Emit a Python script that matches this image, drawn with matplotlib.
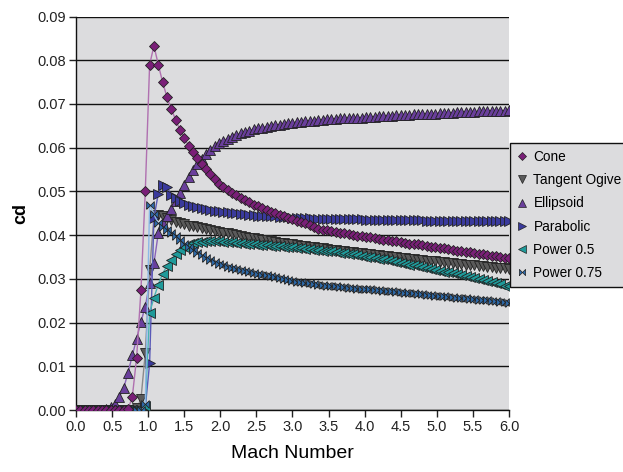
import numpy as np
import matplotlib
matplotlib.use("Agg")
import matplotlib.pyplot as plt
from matplotlib.lines import Line2D

plt.rcParams['font.family'] = ['Liberation Sans', 'DejaVu Sans']

# Mach numbers, 0.0 to 6.0 in steps of 0.06
mach = np.round(np.arange(101) * 0.06, 2)

cone = [0, 0, 0, 0, 0, 0, 0, 0, 0, 0, 0, 0,
        .0002, .0030, .0120, .0275, .0500, .0790, .0833, .0790, .0750, .0716,
        .0689, .0664, .0641, .0622, .0605, .0590, .0576, .0563, .0551, .0539,
        .0528, .0518, .0510, .0503, .0497, .0491, .0485, .0480, .0475, .0470,
        .0466, .0462, .0458, .0454, .0450, .0446, .0443, .0440, .0436, .0433,
        .0430, .0427, .0423, .0418, .0415, .0413, .0411, .0409, .0407, .0405,
        .0404, .0402, .0401, .0399, .0398, .0396, .0395, .0393, .0392, .0390,
        .0389, .0387, .0386, .0384, .0383, .0381, .0380, .0379, .0377, .0376,
        .0374, .0373, .0371, .0370, .0368, .0367, .0365, .0364, .0362, .0361,
        .0359, .0358, .0356, .0355, .0353, .0352, .0350, .0349, .0347]

ogive = [0, 0, 0, 0, 0, 0, 0, 0, 0, 0, 0, 0, 0, 0,
         .0004, .0025, .0131, .0320, .0442, .0446,
         .0443, .0439, .0435, .0431, .0428, .0425, .0422, .0420, .0418, .0416,
         .0414, .0412, .0410, .0408, .0406, .0404, .0402, .0400, .0398, .0396,
         .0394, .0393, .0391, .0389, .0388, .0386, .0385, .0383, .0382, .0380,
         .0379, .0378, .0376,
         .0375, .0374, .0372, .0371, .0370, .0369, .0367, .0366, .0365, .0364,
         .0362, .0361, .0360, .0359, .0358, .0357, .0355, .0354, .0353, .0352,
         .0351, .0350, .0349, .0347, .0346, .0345, .0344, .0343, .0342, .0341,
         .0340, .0339, .0338, .0337, .0336, .0335, .0334, .0333, .0332, .0331,
         .0330, .0329, .0328, .0327, .0326, .0325, .0324, .0323]

ellipsoid = [0, 0, 0, 0, 0, 0,
             .0001, .0003, .0007, .0015, .0030, .0050, .0085, .0125, .0163, .0202,
             .0237, .0290, .0336, .0404, .0429, .0445, .0459, .0478, .0497, .0515,
             .0532, .0549, .0562, .0574, .0585, .0595, .0603, .0610, .0616, .0621,
             .0625, .0629, .0633, .0636, .0639, .0642, .0644, .0646, .0648, .0650,
             .0652, .0653, .0655, .0656, .0657, .0658, .0659,
             .0660, .0661, .0662, .0663, .0664, .0665, .0665, .0666, .0667, .0667,
             .0668, .0668, .0669, .0669, .0670, .0671, .0671, .0672, .0672, .0673,
             .0673, .0674, .0674, .0675, .0675, .0676, .0676, .0677, .0677, .0678,
             .0678, .0679, .0679, .0680, .0680, .0681, .0681, .0682, .0682, .0682,
             .0683, .0683, .0684, .0684, .0685, .0685, .0685, .0686]

parabolic = [0, 0, 0, 0, 0, 0, 0, 0, 0, 0, 0, 0, 0, 0, 0, 0,
             .0006, .0107, .0440, .0495, .0515, .0510, .0493, .0484, .0478, .0474,
             .0470, .0467, .0464, .0462, .0460, .0458, .0456, .0455, .0453, .0452,
             .0451, .0450, .0449, .0448, .0447, .0446, .0445, .0445, .0444, .0443,
             .0443, .0442, .0441, .0441, .0440, .0440, .0439,
             .0439, .0439, .0438, .0438, .0438, .0437, .0437, .0437, .0437, .0436,
             .0436, .0436, .0436, .0436, .0435, .0435, .0435, .0435, .0435, .0435,
             .0434, .0434, .0434, .0434, .0434, .0434, .0434, .0434, .0433, .0433,
             .0433, .0433, .0433, .0433, .0433, .0433, .0433, .0433, .0433, .0433,
             .0433, .0433, .0433, .0433, .0433, .0433, .0433, .0433]

power05 = [0, 0, 0, 0, 0, 0, 0, 0, 0, 0, 0, 0, 0, 0, 0, 0,
           .0010, .0223, .0257, .0287, .0312, .0330, .0344, .0356, .0366, .0374,
           .0379, .0382, .0384, .0385, .0386, .0386, .0386, .0386, .0385, .0385,
           .0384, .0383, .0382, .0381, .0380, .0379, .0378, .0378, .0377, .0376,
           .0375, .0375, .0374, .0373, .0372, .0371, .0370, .0369, .0368, .0367,
           .0366, .0365, .0364, .0363, .0361, .0360, .0359, .0357, .0356, .0354,
           .0353, .0351, .0350, .0348, .0346, .0345, .0343, .0341, .0339, .0337,
           .0335, .0333, .0331, .0329, .0327, .0325, .0323, .0321, .0319, .0317,
           .0315, .0313, .0311, .0309, .0306, .0304, .0302, .0300, .0297, .0295,
           .0293, .0290, .0288, .0285, .0283]

power075 = [0, 0, 0, 0, 0, 0, 0, 0, 0, 0, 0, 0, 0, 0, 0, 0,
            .0015, .0470, .0448, .0427, .0418, .0412, .0406, .0398, .0389, .0381,
            .0374, .0367, .0360, .0354, .0348, .0343, .0339, .0335, .0331, .0328,
            .0325, .0323, .0320, .0318, .0316, .0314, .0312, .0310, .0308, .0306,
            .0304, .0302, .0300, .0298, .0296, .0294, .0292,
            .0291, .0290, .0288, .0287, .0286, .0285, .0284, .0283, .0282, .0281,
            .0280, .0279, .0278, .0277, .0277, .0276, .0275, .0274, .0273, .0272,
            .0272, .0271, .0270, .0269, .0268, .0267, .0266, .0265, .0264, .0263,
            .0262, .0261, .0260, .0259, .0258, .0257, .0256, .0256, .0255, .0254,
            .0253, .0252, .0251, .0250, .0249, .0248, .0247, .0246]

bowtie = [(-1, -1), (1, 1), (1, -1), (-1, 1), (-1, -1)]

series = [
    ("Cone", cone, 'D', 5.0, '#7a1f78', '#b070b0', 6),
    ("Tangent Ogive", ogive, 'v', 6.5, '#5a5a5a', '#8a8a8a', 3),
    ("Ellipsoid", ellipsoid, '^', 6.5, '#6a3f9c', '#8a64b8', 3),
    ("Parabolic", parabolic, '>', 6.5, '#3a3a9c', '#5a5ab8', 3),
    ("Power 0.5", power05, '<', 6.5, '#1f9a9a', '#4ab4b4', 3),
    ("Power 0.75", power075, bowtie, 5.5, '#2e6db0', '#8cb8e8', 3),
]

fig = plt.figure(figsize=(6.23, 4.72), dpi=100)
ax = fig.add_axes([0.122, 0.131, 0.695, 0.834])
ax.set_facecolor('#dcdcde')

handles = []
for name, vals, mk, ms, fc, lc, z in series:
    ax.plot(mach, vals, color=lc, lw=1.0, marker=mk, ms=ms,
            markerfacecolor=fc, markeredgecolor='#222222', markeredgewidth=0.6,
            zorder=z)
    handles.append(Line2D([], [], ls='none', marker=mk, ms=ms - 1.0,
                          markerfacecolor=fc, markeredgecolor='#222222',
                          markeredgewidth=0.5, label=name))

ax.set_xlim(0, 6)
ax.set_ylim(0, 0.09)
ax.set_xticks(np.arange(0, 6.01, 0.5))
ax.set_xticklabels([f"{v:.1f}" for v in np.arange(0, 6.01, 0.5)])
ax.set_yticks(np.arange(0, 0.091, 0.01))
ax.set_yticklabels([f"{v:.2f}" for v in np.arange(0, 0.091, 0.01)])
ax.yaxis.grid(True, color='#111111', lw=1.0)
ax.set_axisbelow(True)
for s in ['top', 'right']:
    ax.spines[s].set_visible(False)
for s in ['left', 'bottom']:
    ax.spines[s].set_color('#111111')
    ax.spines[s].set_linewidth(1.0)
ax.tick_params(axis='both', direction='out', length=5, width=1,
               labelsize=10.5, colors='#222222', pad=2)

ax.set_xlabel("Mach Number", fontsize=14, labelpad=8)
ax.set_ylabel("cd", fontsize=13, fontweight='bold', labelpad=6)

leg = fig.legend(handles=handles, loc='upper left',
                 bbox_to_anchor=(0.819, 0.697, 0.22, 0.0), mode='expand',
                 fontsize=9.8, frameon=True,
                 fancybox=False, edgecolor='#111111', facecolor='#dcdcde',
                 handlelength=0.7, handletextpad=0.5, labelspacing=0.68,
                 borderpad=0.5, borderaxespad=0)
leg.get_frame().set_linewidth(1.0)
leg.get_frame().set_alpha(1)

fig.savefig("out.png", dpi=100)
